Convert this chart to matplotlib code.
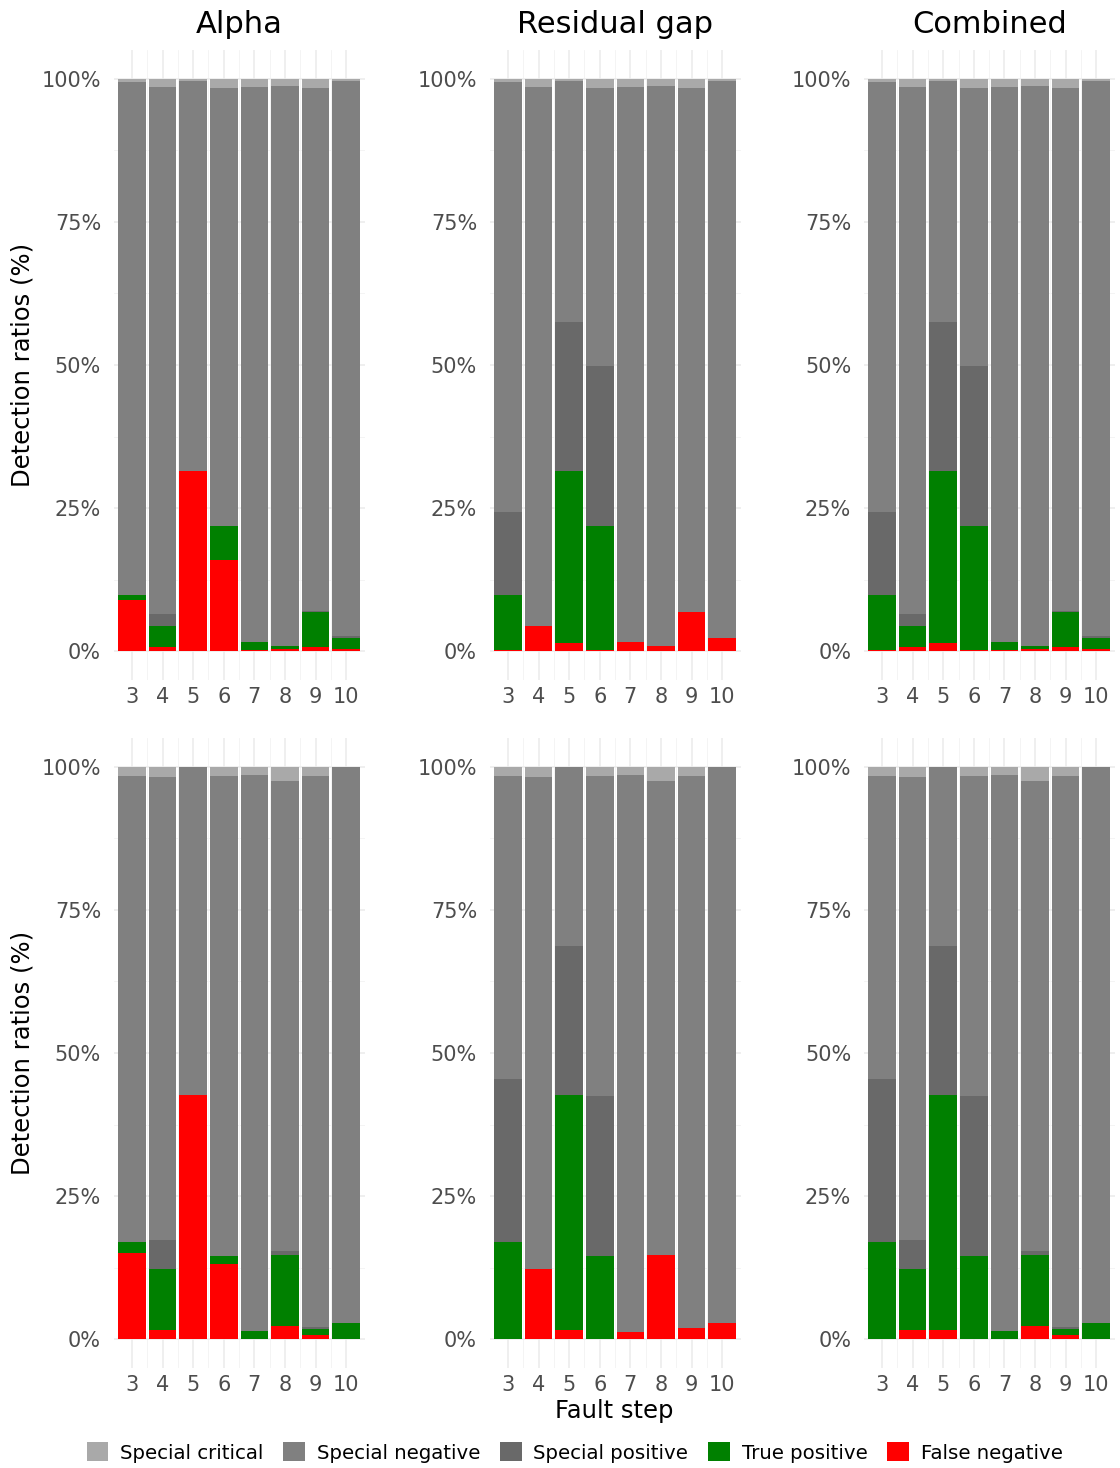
import numpy as np
import matplotlib
matplotlib.use("Agg")
import matplotlib.pyplot as plt
from matplotlib.patches import Patch

steps = [3, 4, 5, 6, 7, 8, 9, 10]
methods = ["Alpha", "Residual gap", "Combined"]
categories = ["Special critical", "Special negative", "Special positive", "True positive", "False negative"]
colors = {"Special critical": "#A9A9A9", "Special negative": "#808080",
          "Special positive": "#696969", "True positive": "#008000",
          "False negative": "#FF0000"}

# segment heights (%), top row
top_sc = [0.6, 1.5, 0.4, 1.7, 1.5, 1.3, 1.7, 0.45]
top_alpha_fn = [9.0, 0.7, 31.4, 16.0, 0.2, 0.35, 0.7, 0.35]
top_alpha_tp = [0.8, 3.7, 0.0, 5.8, 1.4, 0.55, 6.1, 2.05]
top_alpha_sp = [0.0, 2.2, 0.0, 0.0, 0.1, 0.0, 0.3, 0.2]
top_alpha_sn = [89.6, 91.9, 68.2, 76.5, 96.8, 97.8, 91.2, 96.95]
top_resid_fn = [0.2, 4.4, 1.4, 0.2, 1.6, 0.9, 6.8, 2.4]
top_resid_tp = [9.6, 0.0, 30.0, 21.6, 0.0, 0.0, 0.0, 0.0]
top_resid_sp = [14.5, 0.0, 26.1, 28.0, 0.0, 0.0, 0.0, 0.0]
top_resid_sn = [75.1, 94.1, 42.1, 48.5, 96.9, 97.8, 91.5, 97.15]
top_comb_fn = [0.2, 0.7, 1.4, 0.2, 0.2, 0.35, 0.7, 0.35]
top_comb_tp = [9.6, 3.7, 30.0, 21.6, 1.4, 0.55, 6.1, 2.05]
top_comb_sp = [14.5, 2.2, 26.1, 28.0, 0.1, 0.0, 0.3, 0.2]
top_comb_sn = [75.1, 91.9, 42.1, 48.5, 96.8, 97.8, 91.2, 96.95]

# bottom row
bot_sc = [1.6, 1.9, 0.0, 1.6, 1.4, 2.6, 1.6, 0.1]
bot_alpha_fn = [15.1, 1.7, 42.7, 13.2, 0.1, 2.4, 0.8, 0.1]
bot_alpha_tp = [1.9, 10.6, 0.0, 1.4, 1.4, 12.4, 1.0, 2.8]
bot_alpha_sp = [0.0, 5.1, 0.0, 0.0, 0.0, 0.7, 0.4, 0.0]
bot_alpha_sn = [81.4, 80.7, 57.3, 83.8, 97.1, 81.9, 96.2, 97.0]
bot_resid_fn = [0.1, 12.3, 1.7, 0.1, 1.3, 14.8, 2.0, 2.9]
bot_resid_tp = [16.9, 0.0, 41.0, 14.5, 0.0, 0.0, 0.0, 0.0]
bot_resid_sp = [28.5, 0.0, 26.0, 27.9, 0.0, 0.0, 0.0, 0.0]
bot_resid_sn = [52.9, 85.8, 31.3, 55.9, 97.3, 82.6, 96.4, 97.0]
bot_comb_fn = [0.1, 1.7, 1.7, 0.1, 0.1, 2.4, 0.8, 0.1]
bot_comb_tp = [16.9, 10.6, 41.0, 14.5, 1.4, 12.4, 1.0, 2.8]
bot_comb_sp = [28.5, 5.1, 26.0, 27.9, 0.0, 0.7, 0.4, 0.0]
bot_comb_sn = [52.9, 80.7, 31.3, 55.9, 97.1, 81.9, 96.2, 97.0]

panels = [
    [(top_alpha_fn, top_alpha_tp, top_alpha_sp, top_alpha_sn, top_sc),
     (top_resid_fn, top_resid_tp, top_resid_sp, top_resid_sn, top_sc),
     (top_comb_fn, top_comb_tp, top_comb_sp, top_comb_sn, top_sc)],
    [(bot_alpha_fn, bot_alpha_tp, bot_alpha_sp, bot_alpha_sn, bot_sc),
     (bot_resid_fn, bot_resid_tp, bot_resid_sp, bot_resid_sn, bot_sc),
     (bot_comb_fn, bot_comb_tp, bot_comb_sp, bot_comb_sn, bot_sc)],
]
stack_order = ["False negative", "True positive", "Special positive", "Special negative", "Special critical"]

fig = plt.figure(figsize=(11.2, 14.68), dpi=100)
lefts = [0.1014, 0.4371, 0.7711]
bottoms = [0.5368, 0.0681]
w, h = 0.2241, 0.4292

x = np.arange(len(steps))
for r in range(2):
    for c in range(3):
        ax = fig.add_axes([lefts[c], bottoms[r], w, h])
        base = np.zeros(len(steps))
        for name, vals in zip(stack_order, panels[r][c]):
            vals = np.array(vals)
            ax.bar(x, vals, bottom=base, width=0.9, color=colors[name], linewidth=0, zorder=2)
            base += vals
        ax.set_xlim(-0.6, len(steps) - 0.4)
        ax.set_ylim(-5, 105)
        ax.set_yticks([0, 25, 50, 75, 100])
        ax.set_yticklabels(["0%", "25%", "50%", "75%", "100%"])
        ax.set_yticks([12.5, 37.5, 62.5, 87.5], minor=True)
        ax.set_xticks(x)
        ax.set_xticklabels([str(s) for s in steps])
        ax.set_xticks(x[:-1] + 0.5, minor=True)
        ax.grid(which="major", color="#ebebeb", linewidth=1.1, zorder=0)
        ax.grid(which="minor", color="#f3f3f3", linewidth=0.6, zorder=0)
        ax.tick_params(which="both", length=0, labelsize=15, labelcolor="#4d4d4d")
        ax.tick_params(axis="y", pad=9)
        ax.tick_params(axis="x", pad=5)
        for s in ax.spines.values():
            s.set_visible(False)
        if r == 0:
            ax.set_title(methods[c], fontsize=22, pad=12)
        if c == 0:
            ax.set_ylabel("Detection ratios (%)", fontsize=17.5)
            ax.yaxis.set_label_coords(-0.315, 0.5)

fig.text(0.548, 0.039, "Fault step", ha="center", va="center", fontsize=17.5)
handles = [Patch(facecolor=colors[n], edgecolor="none", label=n) for n in categories]
fig.legend(handles=handles, loc="center", bbox_to_anchor=(0.513, 0.0105), ncol=5,
           frameon=False, fontsize=14.2, handlelength=1.1, handleheight=1.1,
           handletextpad=0.6, columnspacing=1.0)

fig.savefig("out.png", dpi=100)
